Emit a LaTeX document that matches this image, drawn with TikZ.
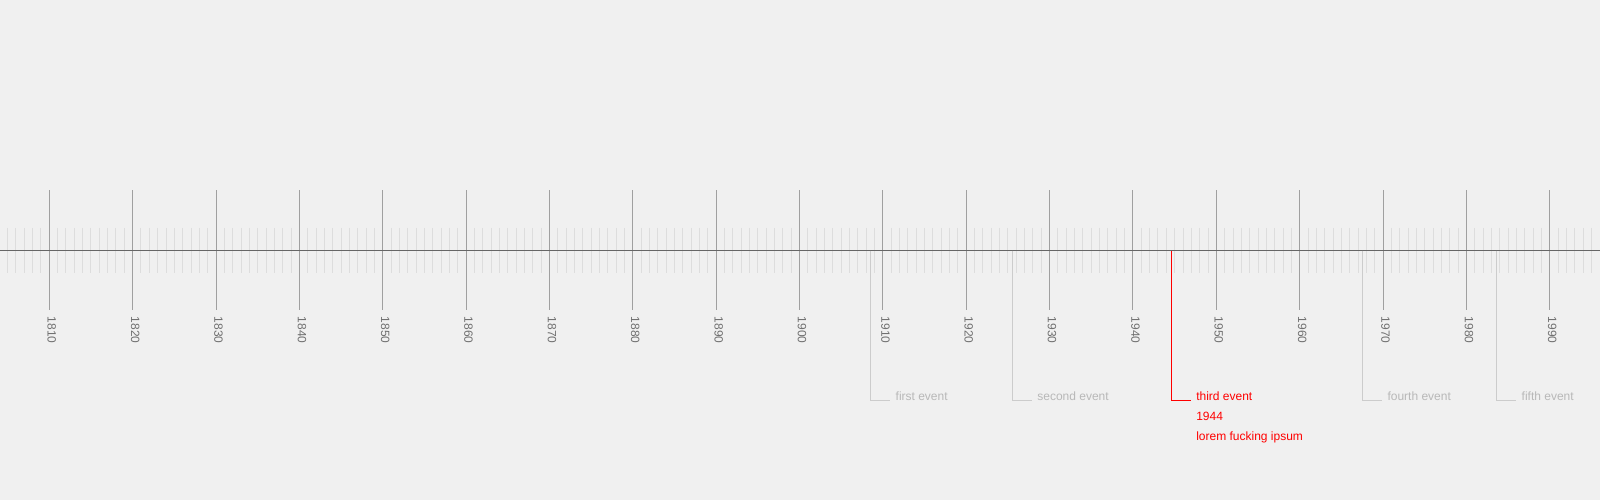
\documentclass[tikz,border=0pt]{standalone}
\usepackage{fontspec}
\setmainfont{Liberation Sans}

\definecolor{bgcol}{HTML}{F0F0F0}
\definecolor{axiscol}{HTML}{666666}
\definecolor{majorcol}{HTML}{A0A0A0}
\definecolor{minorcol}{HTML}{DDDDDD}
\definecolor{yearcol}{HTML}{707070}
\definecolor{evline}{HTML}{CCCCCC}
\definecolor{evtext}{HTML}{B8B8B8}
\definecolor{evred}{HTML}{FF0000}

\tikzset{
  minortick/.style={draw=minorcol, line width=0.75pt},
  majortick/.style={draw=majorcol, line width=0.75pt},
  yearlabel/.style={rotate=-90, anchor=west, inner sep=0pt, text=yearcol, font=\fontsize{9}{11}\selectfont},
  evlink/.style={draw=evline, line width=0.75pt, shorten >=3.75pt},
  evlabel/.style={anchor=base west, inner sep=0pt, text=evtext, font=\fontsize{9}{11}\selectfont},
}

\begin{document}
\begin{tikzpicture}[x=0.75pt, y=-0.75pt]
    % background
    \fill[bgcol] (0,0) rectangle (1600,500);
    \useasboundingbox (0,0) rectangle (1600,500);

    % one small tick per year
    \foreach \yr in {1805,...,1995}{
        \pgfmathsetmacro\px{49.3+(\yr-1810)*8.336}
        \draw[minortick] (\px,227.5) -- (\px,272.5);
    }

    % decades
    \foreach \yr in {1810,1820,...,1990}{
        \pgfmathsetmacro\px{49.3+(\yr-1810)*8.336}
        \coordinate (top\yr) at (\px,190);
        \coordinate (bot\yr) at (\px,310);
        \draw[majortick] (top\yr) -- (bot\yr);
        \node[yearlabel] (lab\yr) at (\px+2.5,316.5) {\yr};
    }

    % axis
    \coordinate (start) at (0,250.5);
    \coordinate (end) at (1600,250.5);
    \draw[axiscol, line width=0.75pt] (start) -- (end);

    % events
    \foreach \n/\yr/\txt in {1/1908.5/first event, 2/1925.5/second event, 4/1967.5/fourth event, 5/1983.6/fifth event}{
        \pgfmathsetmacro\px{49.3+(\yr-1810)*8.336}
        \coordinate (ev\n) at (\px,250.5);
        \node[evlabel] (evt\n) at (\px+25,400) {\txt};
        \draw[evlink] (ev\n) |- (evt\n.base west);
    }

    % selected event
    \coordinate (ev3) at (1171.7,250.5);
    \node[evlabel, text=evred] (evt3) at (1196,400) {third event};
    \node[evlabel, text=evred] (evt3y) at (1196,420) {1944};
    \node[evlabel, text=evred] (evt3d) at (1196,440) {lorem fucking ipsum};
    \draw[evlink, draw=evred] (ev3) |- (evt3.base west);
\end{tikzpicture}
\end{document}
